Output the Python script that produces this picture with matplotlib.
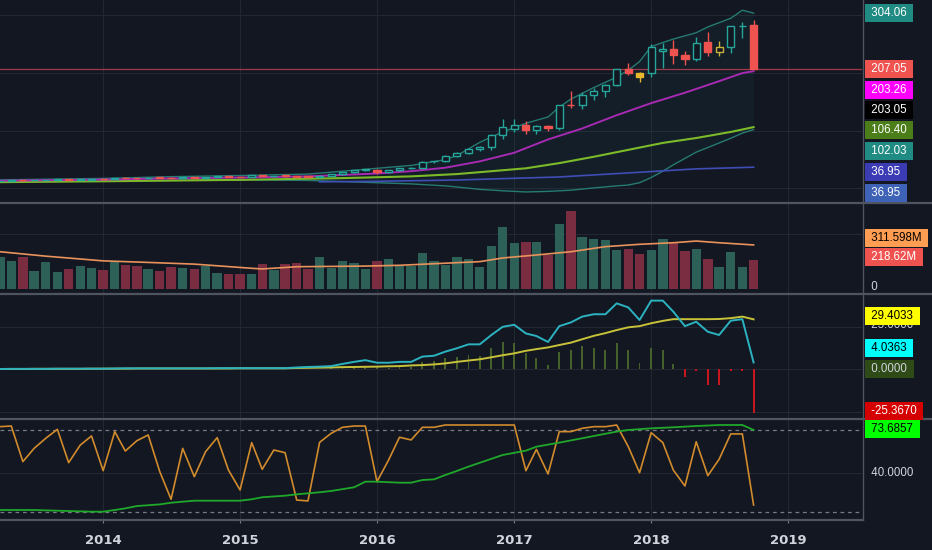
import numpy as np
import pandas as pd
import matplotlib
matplotlib.use('Agg')
import matplotlib.pyplot as plt
import matplotlib.dates as mdates
from matplotlib.lines import Line2D

BG = '#131722'
GRID = '#232733'
TXT = '#d1d4dc'
UP = '#26a69a'
DOWN = '#ef5350'

# monthly candles Apr 2013 .. Oct 2018
opens = [12.8, 13.7, 14.5, 14.0, 14.6, 14.7, 15.6, 15.2, 15.5,
         16.0, 15.7, 18.3, 17.9, 17.6, 19.0, 18.5, 17.5, 19.5, 18.4, 19.5, 20.9,
         20.0, 19.2, 22.8, 20.9, 22.2, 22.0, 20.1, 19.9, 22.5, 24.6, 28.4, 31.7,
         32.3, 29.3, 31.4, 35.3, 35.5, 46.8, 47.0, 57.1, 61.3, 68.5, 71.2, 92.3,
         103.1, 109.2, 101.4, 108.9, 104.2, 145.5, 144.6, 162.5, 169.0, 178.8, 206.8, 200.7,
         199.4, 239.0, 241.5, 231.6, 224.9, 254.0, 236.9, 244.9, 280.9, 283.0]
highs = [13.8, 14.7, 14.6, 14.7, 15.4, 15.9, 15.8, 15.9, 16.2,
         16.4, 18.4, 19.7, 18.4, 19.5, 19.4, 19.5, 19.7, 19.8, 19.6, 21.0, 21.2,
         20.4, 23.0, 22.9, 22.4, 22.9, 22.2, 20.9, 23.0, 25.0, 28.6, 32.7, 33.8,
         33.2, 32.6, 36.3, 37.3, 46.9, 48.0, 58.0, 64.0, 69.7, 72.9, 95.0, 119.9,
         120.9, 117.5, 110.6, 109.2, 145.2, 168.5, 167.5, 174.6, 181.9, 207.0, 217.1, 201.9,
         250.0, 252.5, 257.5, 238.0, 262.0, 272.0, 255.0, 282.3, 288.1, 292.8]
lows = [12.5, 13.6, 13.3, 13.9, 14.3, 14.6, 14.9, 14.9, 15.4,
        15.3, 15.6, 17.5, 17.2, 17.4, 18.2, 17.4, 17.3, 17.8, 16.8, 19.3, 19.3,
        19.1, 19.1, 20.9, 20.6, 20.7, 20.1, 19.2, 18.5, 21.0, 23.6, 27.6, 30.8,
        24.8, 27.0, 30.7, 34.2, 35.2, 43.9, 46.0, 55.0, 60.1, 64.8, 66.2, 85.0,
        97.6, 95.2, 95.2, 99.6, 101.8, 139.0, 137.1, 153.2, 158.8, 178.0, 196.8, 183.9,
        194.0, 208.7, 215.7, 214.0, 221.7, 230.0, 230.4, 234.6, 260.8, 206.5]
closes = [13.7, 14.5, 14.0, 14.6, 14.7, 15.6, 15.2, 15.5, 16.0,
          15.7, 18.3, 17.9, 17.6, 19.0, 18.5, 17.5, 19.5, 18.4, 19.5, 20.9, 20.0,
          19.2, 22.8, 20.9, 22.2, 22.0, 20.1, 19.9, 22.5, 24.6, 28.4, 31.7, 33.0,
          29.3, 31.4, 35.6, 35.5, 46.7, 47.0, 57.1, 61.3, 68.5, 71.2, 92.3, 106.7,
          109.2, 101.4, 108.9, 104.2, 144.2, 144.6, 162.5, 169.0, 178.8, 206.8, 200.7, 193.5,
          245.8, 242.0, 231.6, 224.9, 252.4, 236.9, 244.9, 280.9, 281.5, 207.05]
volume_m = [244, 211, 239, 137, 203, 124, 147, 175, 155,
            140, 203, 183, 175, 147, 137, 162, 155, 147, 173, 121, 111,
            111, 113, 185, 142, 185, 193, 147, 239, 155, 213, 193, 147,
            213, 229, 173, 174, 270, 211, 180, 239, 224, 167, 326, 469,
            346, 359, 360, 257, 495, 597, 397, 377, 372, 295, 303, 262,
            295, 380, 359, 290, 303, 229, 167, 278, 167, 218.62]
highlight = {'2017-12': '#e8b730', '2018-07': '#c9b23b'}

# overlays on price pane (month index from Jan 2013, value)
bb_m = [3, 12, 18, 24, 30, 33, 36, 39, 42, 43, 45, 47, 49, 51, 52, 53, 55, 57, 58, 59, 60, 61, 62, 64, 65, 67, 68, 69]
bb_upper = [15, 17.5, 20.5, 22.5, 25, 30, 35, 40, 50, 57, 80, 98, 113, 124, 141, 155, 175, 193, 205, 220,
            246, 253, 259, 270, 280, 295, 309, 304.06]
bb_lower = [11.5, 13.5, 14, 15, 14, 12, 10, 8, 4.5, 2.6, -1.5, -4, -6, -5, -4, -3, 1, 4.5, 6, 10,
            19, 30, 41, 63, 71, 87, 96, 102.03]
ema_m = [3, 12, 18, 24, 30, 33, 36, 39, 42, 45, 48, 51, 54, 57, 60, 63, 66, 68, 69]
ema_v = [13.5, 15.5, 17.5, 19, 21, 23.5, 26, 30, 36, 47, 62, 85, 104, 127, 148, 166, 186, 200, 203.26]
sma_m = [3, 12, 24, 33, 39, 43, 49, 52, 55, 58, 61, 64, 67, 69]
sma_v = [11, 12.5, 15, 18, 21, 25, 35, 44, 55, 67, 79, 87.5, 98, 106.40]
long_m = [31, 36, 43, 52, 58, 64, 69]
long_v = [11.5, 12.5, 14.7, 20, 27, 34, 36.95]
vma_m = [3, 7, 12, 16, 20, 25, 26, 29, 35, 38, 43, 45, 47, 50, 53, 56, 59, 62, 64, 66, 69]
vma_v = [282, 248, 212, 200, 187, 155, 150, 167, 172, 178, 198, 206, 234, 257, 282, 321, 339, 351, 364, 351, 334]
last_close = 207.05

# MACD pane, Apr 2013 .. Oct 2018
macd = [0.2, 0.3, 0.3, 0.3, 0.3, 0.4, 0.4, 0.4, 0.4, 0.4, 0.5, 0.6, 0.6, 0.6, 0.6, 0.6, 0.6, 0.6,
        0.6, 0.7, 0.7, 0.7, 0.7, 0.7, 0.7, 0.7,
        1.1, 1.4, 1.6, 1.9, 3.2, 4.4, 5.4, 3.9, 3.9, 4.4, 4.4, 7.5, 8.0, 10.4, 12.4, 14.7, 14.7,
        20.2, 25.0, 26.2, 21.1, 19.6, 16.1, 25.4, 27.6, 31.0, 32.4, 32.4, 38.8, 36.4, 29.0,
        40.4, 40.4, 33.9, 25.4, 28.0, 22.1, 20.2, 28.6, 29.5, 4.0363]
signal = [0.2, 0.2, 0.2, 0.3, 0.3, 0.3, 0.3, 0.3, 0.4, 0.4, 0.4, 0.4, 0.5, 0.5, 0.5, 0.5, 0.5, 0.5,
          0.5, 0.5, 0.5, 0.6, 0.6, 0.6, 0.6, 0.6,
          0.8, 0.9, 1.0, 1.1, 1.3, 1.4, 1.5, 1.6, 1.8, 1.9, 2.3, 2.5, 2.9, 3.5, 4.4, 5.2, 5.9,
          7.1, 8.3, 9.4, 10.9, 11.9, 12.9, 14.3, 15.7, 17.7, 19.7, 21.3, 23.1, 24.7, 25.4,
          27.1, 28.5, 29.5, 29.5, 29.5, 29.5, 29.6, 30.1, 31.0, 29.4033]
hist = [0.0] * 26 + [0.1, 0.4, 0.5, 0.6, 1.0, 1.6, 2.0, 1.3, 1.0, 1.3, 1.6, 4.4, 4.9, 6.5, 7.5,
                     8.5, 8.1, 12.4, 16.2, 15.3, 9.4, 6.8, 2.5, 10.4, 11.4, 13.7, 12.4, 11.4,
                     15.7, 11.4, 3.5, 12.4, 11.4, 3.2, -4.7, -0.8, -9.2, -9.2, -0.8, -0.8, -25.367]

# oscillator pane, Apr 2013 .. Oct 2018
osc = [76.3, 76.8, 48.9, 59.3, 67.2, 74.2, 48.1, 61.9, 69.0,
       41.8, 72.4, 57.2, 65.3, 69.8, 41.0, 19.4, 59.3, 37.1, 56.7, 67.7, 42.3,
       26.7, 63.8, 42.9, 58.0, 55.9, 18.8, 18.1, 64.0, 71.1, 75.8, 76.8, 76.8,
       33.2, 50.2, 68.0, 65.9, 75.8, 75.8, 77.6, 77.6, 77.6, 77.6, 77.6, 77.6,
       77.6, 41.8, 58.5, 39.2, 72.4, 72.4, 75.0, 76.3, 76.3, 77.6, 60.6, 40.2,
       71.6, 63.8, 42.3, 29.8, 64.5, 37.9, 50.7, 70.6, 70.6, 14.9]
osc_ma_m = [3, 6, 9, 11, 12, 13, 14, 15, 17, 18, 20, 22, 24, 25, 26, 28, 29, 31, 32, 34, 35, 36,
            38, 39, 40, 41, 42, 43, 44, 47, 49, 50, 52, 54, 55, 57, 58, 60, 62, 64, 66, 68, 69]
osc_ma_v = [11.0, 11.0, 10.2, 9.7, 9.7, 11.0, 12.3, 14.1, 15.4, 16.7, 18.3, 18.3, 18.3, 19.4, 21.0,
            22.2, 23.3, 24.9, 25.9, 28.8, 33.2, 33.2, 32.4, 32.4, 34.5, 35.0, 38.4, 41.6, 45.0,
            54.1, 57.5, 60.6, 63.8, 67.2, 69.0, 72.4, 73.7, 75.0, 75.8, 76.8, 77.6, 77.6, 73.69]
osc_bands = [73.7, 9.4]

year_ticks = ['2014', '2015', '2016', '2017', '2018', '2019']

# right scale tags: (text, y pixel, box colour, text colour)
tags = [('304.06', 13, '#208b82', 'white'), ('207.05', 69, DOWN, 'white'),
        ('203.26', 90, '#ff00ff', 'white'), ('203.05', 110, '#000000', 'white'),
        ('106.40', 130, '#4b7d18', 'white'), ('102.03', 151, '#208b82', 'white'),
        ('36.95', 172, '#3b3cb4', 'white'), ('36.95', 193, '#3d62b6', 'white'),
        ('311.598M', 238, '#ff9e52', 'black'), ('218.62M', 257, DOWN, 'white'),
        ('29.4033', 316, '#ffff00', 'black'), ('4.0363', 348, '#00ffff', 'black'),
        ('0.0000', 369, '#2e4a17', TXT), ('-25.3670', 411, '#d50000', 'white'),
        ('73.6857', 429, '#00ff00', 'black')]
plain_tags = [('0', 287), ('25.0000', 325), ('40.0000', 473)]

dates = pd.date_range('2013-04-01', periods=len(closes), freq='MS')
x = mdates.date2num(dates)


def mx(months):
    return mdates.date2num([pd.Timestamp('2013-01-01') + pd.DateOffset(months=int(m)) for m in months])


W, H = 932, 550
fig = plt.figure(figsize=(W / 100, H / 100), dpi=100, facecolor=BG)
right = 862 / W


def panel(top, bottom):
    a = fig.add_axes([0, 1 - bottom / H, right, (bottom - top) / H], facecolor=BG)
    for s in a.spines.values():
        s.set_visible(False)
    a.tick_params(left=False, right=False, labelleft=False, labelright=False,
                  bottom=False, labelbottom=False)
    a.grid(True, color=GRID, lw=0.8)
    a.set_axisbelow(True)
    return a


ax_p = panel(0, 202)
ax_v = panel(203, 293)
ax_m = panel(294, 418)
ax_r = panel(419, 519)

xt = mdates.date2num(pd.to_datetime(year_ticks))
for a in (ax_p, ax_v, ax_m, ax_r):
    a.set_xticks(xt)
    a.set_xlim(mdates.date2num(pd.Timestamp('2013-04-01')), mdates.date2num(pd.Timestamp('2019-07-17')))

# price pane
ax_p.set_ylim(-23.4, 326.7)
ax_p.set_yticks([0, 100, 200, 300])
bx = mx(bb_m)
ax_p.fill_between(bx, bb_lower, bb_upper, color=UP, alpha=0.05, lw=0)
ax_p.plot(bx, bb_upper, color='#267a72', lw=1.0)
ax_p.plot(bx, bb_lower, color='#267a72', lw=1.0)
ax_p.plot(mx(long_m), long_v, color='#3f4db5', lw=1.2)
ax_p.plot(mx(sma_m), sma_v, color='#7cba2a', lw=1.5)
ax_p.plot(mx(ema_m), ema_v, color='#a62ab2', lw=1.4)
ax_p.axhline(last_close, color='#a03a48', lw=0.9)

for i in range(len(closes)):
    o, h, l, c = opens[i], highs[i], lows[i], closes[i]
    up = c >= o
    col = highlight.get(dates[i].strftime('%Y-%m'), UP if up else DOWN)
    ax_p.vlines(x[i], l, h, color=col, lw=1, zorder=3)
    body = max(abs(c - o), 0.9)
    ax_p.bar(x[i], body, bottom=min(o, c), width=19, facecolor=BG if up else col,
             edgecolor=col, lw=1, zorder=4)

# volume pane
ax_v.set_ylim(-34.5, 655.7)
ax_v.set_yticks([420])
vcol = ['#2d6157' if c >= o else '#7a2c41' for o, c in zip(opens, closes)]
ax_v.bar(x, volume_m, width=25, color=vcol, zorder=2)
ax_v.plot(mx(vma_m), vma_v, color='#e8925c', lw=1.2, zorder=3)

# macd pane
ax_m.set_ylim(-28.6, 44.3)
ax_m.set_yticks([-25, 0, 25])
hcol = ['#46602a' if v >= 0 else '#c8161d' for v in hist]
ax_m.bar(x, hist, width=5, color=hcol, zorder=2)
ax_m.plot(x, signal, color='#c8c23a', lw=1.4, zorder=3)
ax_m.plot(x, macd, color='#2bb3c0', lw=1.4, zorder=4)

# oscillator pane
ax_r.set_ylim(3.95, 82.3)
ax_r.set_yticks([40])
for b in osc_bands:
    ax_r.axhline(b, color='#787b86', lw=0.9, ls=(0, (3, 3)))
ax_r.plot(x, osc, color='#d18b2c', lw=1.2, zorder=3)
ax_r.plot(mx(osc_ma_m), osc_ma_v, color='#1fa82a', lw=1.3, zorder=4)

ax_r.tick_params(bottom=True, labelbottom=True, length=3, color='#787b86', pad=8)
ax_r.set_xticklabels(year_ticks, color=TXT, fontsize=9.5, fontweight='bold')

# pane separators and right scale border
for yp in (202.5, 293.5, 418.5):
    fig.add_artist(Line2D([0, 1], [1 - yp / H] * 2, color='#4f5461', lw=1.6))
fig.add_artist(Line2D([0, 862.5 / W], [1 - 519.5 / H] * 2, color='#4f5461', lw=1.6))
fig.add_artist(Line2D([862.5 / W] * 2, [1, 1 - 519.5 / H], color='#4f5461', lw=1.0))

for txt, yp in plain_tags:
    fig.text(868 / W, 1 - yp / H, ' ' + txt, color=TXT, fontsize=8.3, va='center', ha='left',
             family='Liberation Sans', zorder=2)
for txt, yp, bg, fg in tags:
    fig.text(868 / W, 1 - yp / H, ' ' + txt + ' ', color=fg, fontsize=8.3, va='center', ha='left',
             family='Liberation Sans', zorder=5,
             bbox=dict(boxstyle='square,pad=0.3', fc=bg, ec='none'))

fig.savefig('out.png', dpi=100, facecolor=BG)
